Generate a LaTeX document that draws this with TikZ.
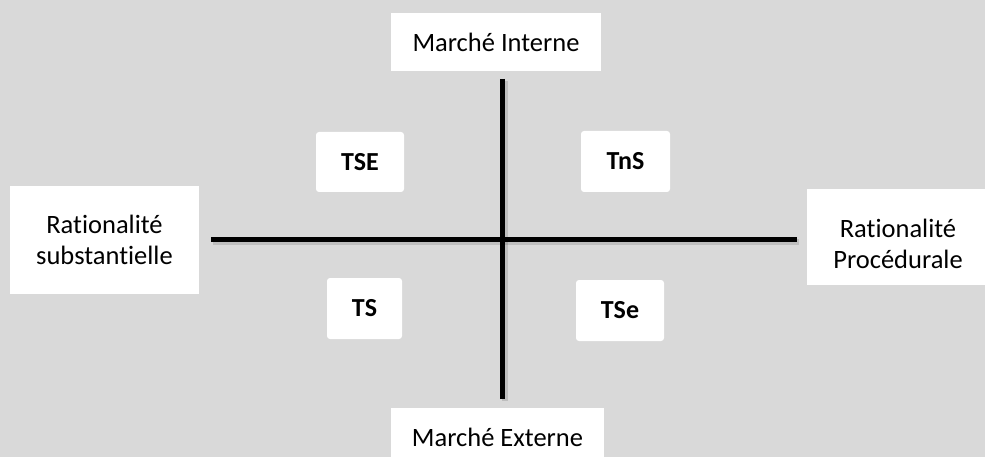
\documentclass[tikz,border=0pt]{standalone}
\usepackage{fontspec}
\setmainfont[RawFeature=-liga]{Carlito}
\definecolor{bg}{HTML}{D9D9D9}
\begin{document}
\begin{tikzpicture}[x=1pt,y=-1pt,
  label box/.style={fill=white, draw=none, inner sep=0pt, align=center, font=\fontsize{26.5}{31}\selectfont},
  label text/.style={inner sep=0pt, align=center, font=\fontsize{26.5}{31}\selectfont},
  quad box/.style={fill=white, draw=none, rounded corners=3pt, inner sep=0pt, font=\fontsize{26}{30}\selectfont\bfseries},
  axis/.style={line width=5pt, black},
  axis shadow/.style={line width=6pt, black, opacity=0.12}]
\useasboundingbox (0,0) rectangle (985,457);
\clip (0,0) rectangle (985,457);
\fill[bg] (0,0) rectangle (985,457);
% axes
\coordinate (vtop) at (502.5,79);
\coordinate (vbot) at (502.5,399);
\coordinate (hleft) at (211,239.5);
\coordinate (hright) at (797,239.5);
\draw[axis shadow] ([shift={(2,2)}]vtop) -- ([shift={(2,2)}]vbot);
\draw[axis shadow] ([shift={(2,2)}]hleft) -- ([shift={(2,2)}]hright);
\draw[axis] (vtop) -- (vbot);
\draw[axis] (hleft) -- (hright);
% outer labels
\node[label box, minimum width=210pt, minimum height=58pt] (mi) at (496,42) {Marché Interne};
\node[label box, minimum width=213pt, minimum height=58pt] (me) at (497.5,437) {Marché Externe};
\node[label box, minimum width=189pt, minimum height=108pt] (rs) at (104.5,240) {Rationalité\\substantielle};
\node[label box, minimum width=190pt, minimum height=96pt] (rp) at (902,237) {};
\node[label text] (rptext) at (898,244) {Rationalité\\Procédurale};
% quadrant boxes
\node[quad box, minimum width=88pt, minimum height=60pt] (tse) at (360,162) {TSE};
\node[quad box, minimum width=89pt, minimum height=61pt] (tns) at (625.5,161.5) {TnS};
\node[quad box, minimum width=75pt, minimum height=61pt] (ts) at (364.5,308.5) {TS};
\node[quad box, minimum width=88pt, minimum height=61pt] (tsE) at (620,310.5) {TSe};
\end{tikzpicture}
\end{document}
